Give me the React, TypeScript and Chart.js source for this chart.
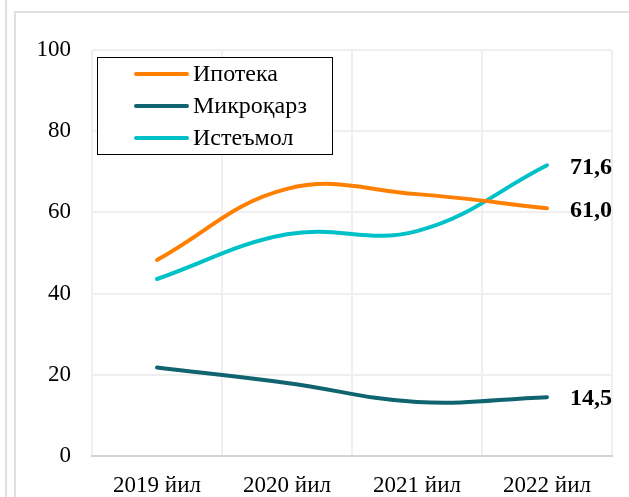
import React, { useEffect, useRef } from "react";
import { Chart, registerables } from "chart.js";

Chart.register(...registerables);

const categories = ["2019 йил", "2020 йил", "2021 йил", "2022 йил"];
const ipoteka = [48.3, 65.8, 64.5, 61.0];
const mikroqarz = [21.8, 18.0, 13.3, 14.5];
const istemol = [43.6, 54.6, 55.4, 71.6];
const seriesNames = ["Ипотека", "Микроқарз", "Истеъмол"];
const lastLabels = ["61,0", "14,5", "71,6"];
const yTicks = [0, 20, 40, 60, 80, 100];

const FONT = "'Liberation Serif', 'Times New Roman', serif";

const overlayPlugin = {
  id: "overlay",
  afterDatasetsDraw(chart: any) {
    const ctx = chart.ctx;
    ctx.save();
    // end labels
    ctx.font = `bold 24px ${FONT}`;
    ctx.fillStyle = "#000";
    ctx.textAlign = "left";
    ctx.textBaseline = "middle";
    chart.data.datasets.forEach((ds: any, i: number) => {
      const meta = chart.getDatasetMeta(i);
      const pt = meta.data[meta.data.length - 1];
      ctx.fillText(lastLabels[i], pt.x + 23, pt.y + 2);
    });
    // legend box
    const bx = 97, by = 57, bw = 235, bh = 97;
    ctx.fillStyle = "#fff";
    ctx.fillRect(bx, by, bw, bh);
    ctx.strokeStyle = "#000";
    ctx.lineWidth = 1;
    ctx.strokeRect(bx + 0.5, by + 0.5, bw, bh);
    const rows = [74, 106, 138];
    chart.data.datasets.forEach((ds: any, i: number) => {
      const y = rows[i];
      ctx.strokeStyle = ds.borderColor;
      ctx.lineWidth = 4;
      ctx.lineCap = "round";
      ctx.beginPath();
      ctx.moveTo(136, y);
      ctx.lineTo(187, y);
      ctx.stroke();
      ctx.fillStyle = "#000";
      ctx.font = `24px ${FONT}`;
      ctx.textAlign = "left";
      ctx.textBaseline = "middle";
      ctx.fillText(ds.label, 193, y + 1);
    });
    ctx.restore();
  },
};

export default function App() {
  const ref = useRef<HTMLCanvasElement | null>(null);
  useEffect(() => {
    if (!ref.current) return;
    const mk = (label: string, data: number[], color: string) => ({
      label,
      data,
      borderColor: color,
      backgroundColor: color,
      borderWidth: 4,
      pointRadius: 0,
      tension: 0.4,
      borderCapStyle: "round" as const,
      fill: false,
    });
    const chart = new Chart(ref.current, {
      type: "line",
      data: {
        labels: categories,
        datasets: [
          mk(seriesNames[0], ipoteka, "#FF8000"),
          mk(seriesNames[1], mikroqarz, "#0F6470"),
          mk(seriesNames[2], istemol, "#00C0C8"),
        ],
      },
      options: {
        responsive: false,
        animation: false,
        layout: { padding: { top: 50, right: 17, bottom: 0, left: 0 } },
        plugins: { legend: { display: false }, tooltip: { enabled: false } },
        scales: {
          x: {
            offset: true,
            grid: { offset: true, color: "#efefef", lineWidth: 2, drawTicks: false },
            border: { display: true, color: "#d4d4d4", width: 2 },
            ticks: {
              padding: 16,
              color: "#000",
              font: { family: FONT, size: 23 },
              maxRotation: 0,
            },
            afterFit: (s: any) => {
              s.height = 41;
            },
          },
          y: {
            min: 0,
            max: 100,
            afterBuildTicks: (s: any) => {
              s.ticks = yTicks.map((v) => ({ value: v }));
            },
            grid: { color: "#efefef", lineWidth: 2, drawTicks: false },
            border: { display: false },
            ticks: {
              padding: 21,
              color: "#000",
              font: { family: FONT, size: 23 },
            },
            afterFit: (s: any) => {
              s.width = 92;
            },
          },
        },
      },
      plugins: [overlayPlugin],
    });
    return () => chart.destroy();
  }, []);
  return (
    <div style={{ position: "absolute", left: 0, top: 0, width: 629, height: 497, background: "#fff", overflow: "hidden" }}>
      <div style={{ position: "absolute", left: 5, top: 0, width: 2, height: 497, background: "#e0e0e0" }} />
      <div style={{ position: "absolute", left: 14, top: 11, width: 640, height: 520, borderLeft: "2px solid #e0e0e0", borderTop: "2px solid #e0e0e0" }} />
      <canvas ref={ref} width={629} height={497} style={{ position: "absolute", left: 0, top: 0 }} />
    </div>
  );
}
